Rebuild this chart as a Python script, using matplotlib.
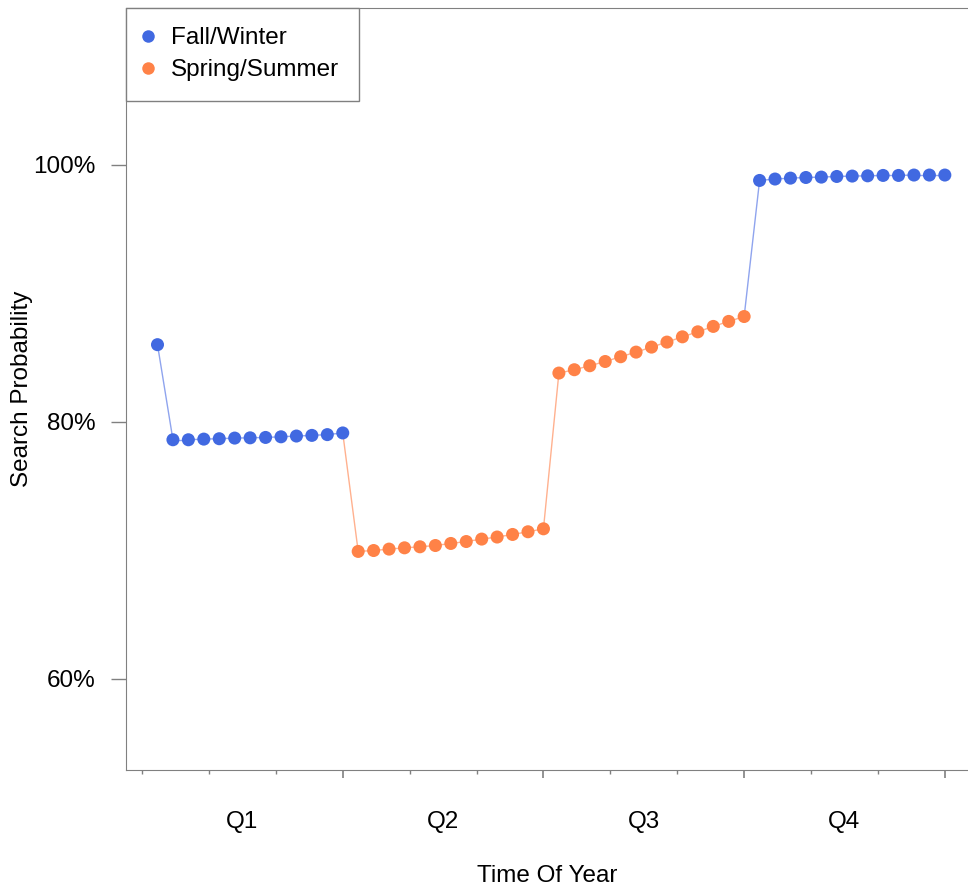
import numpy as np
import matplotlib.pyplot as plt
from matplotlib.lines import Line2D

plt.rcParams['font.family'] = ['Liberation Sans', 'DejaVu Sans']

# weekly search probability (%), one list per quarter
q1 = [86.0, 78.60, 78.60, 78.65, 78.68, 78.73, 78.75, 78.78, 78.83, 78.89, 78.94, 79.0, 79.13]
q2 = [69.91, 69.98, 70.09, 70.19, 70.27, 70.37, 70.53, 70.68, 70.87, 71.03, 71.23, 71.44, 71.67]
q3 = [83.79, 84.05, 84.36, 84.69, 85.06, 85.42, 85.81, 86.20, 86.61, 87.00, 87.42, 87.81, 88.19]
q4 = [98.78, 98.89, 98.96, 99.01, 99.04, 99.09, 99.12, 99.14, 99.17, 99.17, 99.20, 99.20, 99.20]
quarters = ['Q1', 'Q2', 'Q3', 'Q4']
quarter_season = ['Fall/Winter', 'Spring/Summer', 'Spring/Summer', 'Fall/Winter']
colors = {'Fall/Winter': '#4169E1', 'Spring/Summer': '#FF8247'}
line_colors = {'Fall/Winter': '#8FA4EE', 'Spring/Summer': '#FFB18F'}

values = q1 + q2 + q3 + q4
weeks = np.arange(1, len(values) + 1)
seasons = [s for s in quarter_season for _ in range(13)]

fs = 17.5
fig = plt.figure(figsize=(9.68, 8.92), dpi=100)
ax = fig.add_axes([126 / 968, 122 / 892, 842 / 968, 762 / 892])

# connecting segments take the colour of the point they lead to
for i in range(1, len(values)):
    ax.plot(weeks[i - 1:i + 1], values[i - 1:i + 1], color=line_colors[seasons[i]],
            lw=1.0, zorder=1)

for s in ['Fall/Winter', 'Spring/Summer']:
    idx = [i for i, ss in enumerate(seasons) if ss == s]
    ax.scatter(weeks[idx], np.array(values)[idx], s=88, color=colors[s],
               edgecolors='none', zorder=2)

ax.set_xlim(-1.04, 53.5)
ax.set_ylim(52.9, 112.2)

ax.set_yticks([60, 80, 100])
ax.set_yticklabels(['60%', '80%', '100%'])
ax.set_xticks([13, 26, 39, 52])
ax.set_xticklabels([])
ax.set_xticks([i * 13 / 3 for i in range(13) if i % 3 != 0 or i == 0], minor=True)
for j, q in enumerate(quarters):
    ax.text(j * 13 + 6.5, -0.068, q, transform=ax.get_xaxis_transform(),
            ha='center', va='center', fontsize=fs)

gray = '#808080'
for side in ['left', 'bottom', 'top']:
    ax.spines[side].set_color(gray)
ax.spines['right'].set_visible(False)
ax.tick_params(axis='y', length=11, width=1, color=gray, labelsize=fs, pad=11)
ax.tick_params(axis='x', which='major', length=6, width=1.2, color=gray)
ax.tick_params(axis='x', which='minor', length=3, width=1, color=gray)

fig.text(547 / 968, 1 - 876 / 892, 'Time Of Year', ha='center', va='center', fontsize=fs)
fig.text(22 / 968, 1 - 389 / 892, 'Search Probability', ha='center', va='center',
         rotation=90, fontsize=fs)

handles = [Line2D([], [], ls='none', marker='o', markersize=9, color=colors[s],
                  markeredgewidth=0) for s in ['Fall/Winter', 'Spring/Summer']]
leg = ax.legend(handles, ['Fall/Winter', 'Spring/Summer'], loc='upper left',
                bbox_to_anchor=(0, 1), borderaxespad=0, fontsize=fs, fancybox=False,
                handletextpad=0.85, handlelength=0.2, borderpad=0.8, labelspacing=0.4,
                framealpha=1)
leg.get_frame().set_edgecolor(gray)
leg.get_frame().set_linewidth(1)

fig.savefig('out.png', dpi=100)
